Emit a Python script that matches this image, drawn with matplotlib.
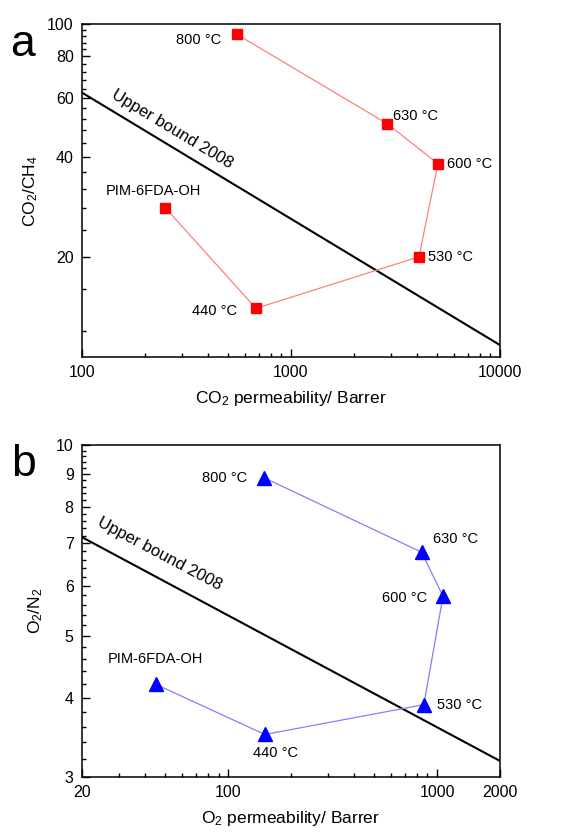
"""Robeson plots for PIM-6FDA-OH and its carbonised derivatives (CO2/CH4 and O2/N2)."""
import matplotlib
matplotlib.use("Agg")
import matplotlib.pyplot as plt
from matplotlib.ticker import FixedLocator, FixedFormatter, NullFormatter

plt.rcParams["font.family"] = ["Liberation Sans", "DejaVu Sans"]
plt.rcParams["mathtext.fontset"] = "custom"
plt.rcParams["mathtext.rm"] = "Liberation Sans"
plt.rcParams["mathtext.default"] = "regular"

# --- data ---
labels = ["PIM-6FDA-OH", "440 °C", "530 °C", "600 °C", "630 °C", "800 °C"]

co2_perm = [250, 680, 4100, 5050, 2880, 550]
co2_ch4 = [28.1, 14.0, 20.0, 38.1, 50.3, 93.3]

o2_perm = [45, 150, 865, 1068, 844, 149]
o2_n2 = [4.2, 3.5, 3.9, 5.78, 6.78, 8.88]

bound_co2_x = [100, 10000]
bound_co2_y = [62.3, 10.86]
bound_o2_x = [20, 2000]
bound_o2_y = [7.16, 3.18]

# label offsets (pixels) and alignment per point, panel a / panel b
offsets_a = [(-12, 17, "center"), (-19, -3, "right"), (9, 0, "left"),
             (9, 0, "left"), (6, 8, "left"), (-16, -6, "right")]
offsets_b = [(0, 25, "center"), (11, -19, "center"), (13, 0, "left"),
             (-16, -2, "right"), (11, 13, "left"), (-17, 0, "right")]


def style_axis(ax, xlim, ylim, xmajor, xminor, ymajor, yminor):
    ax.set_xscale("log")
    ax.set_yscale("log")
    ax.set_xlim(*xlim)
    ax.set_ylim(*ylim)
    ax.xaxis.set_major_locator(FixedLocator(xmajor))
    ax.xaxis.set_major_formatter(FixedFormatter([str(v) for v in xmajor]))
    ax.xaxis.set_minor_locator(FixedLocator(xminor))
    ax.xaxis.set_minor_formatter(NullFormatter())
    ax.yaxis.set_major_locator(FixedLocator(ymajor))
    ax.yaxis.set_major_formatter(FixedFormatter([str(v) for v in ymajor]))
    ax.yaxis.set_minor_locator(FixedLocator(yminor))
    ax.yaxis.set_minor_formatter(NullFormatter())
    ax.tick_params(which="both", direction="in", top=False, right=False,
                   labelsize=11.5, width=1.0, pad=6)
    ax.tick_params(which="major", length=6)
    ax.tick_params(which="minor", length=3)
    for sp in ax.spines.values():
        sp.set_linewidth(1.1)


fig = plt.figure(figsize=(5.64, 8.36), dpi=100)
ax_a = fig.add_axes([0.1454, 0.573, 0.741, 0.398])
ax_b = fig.add_axes([0.1454, 0.0706, 0.741, 0.397])

# panel a: CO2/CH4
xminor_a = [m * d for d in (100, 1000) for m in range(2, 10)]
yminor_a = [v for v in range(12, 100, 4) if v % 20 != 0]
style_axis(ax_a, (100, 10000), (10, 100), [100, 1000, 10000], xminor_a,
           [20, 40, 60, 80, 100], yminor_a)
ax_a.plot(bound_co2_x, bound_co2_y, color="black", lw=1.5, zorder=2)
ax_a.plot(co2_perm, co2_ch4, color="#ff8080", lw=0.9, zorder=3)
ax_a.plot(co2_perm, co2_ch4, ls="none", marker="s", ms=7, color="#ff0000", zorder=4)
for x, y, lab, (dx, dy, ha) in zip(co2_perm, co2_ch4, labels, offsets_a):
    ax_a.annotate(lab, (x, y), xytext=(dx, dy), textcoords="offset pixels",
                  ha=ha, va="center", fontsize=10.5)
ax_a.text(270, 48.5, "Upper bound 2008", rotation=-31, ha="center", va="center",
          fontsize=12, rotation_mode="anchor")
ax_a.set_xlabel("CO$_2$ permeability/ Barrer", fontsize=12.5, labelpad=6)
ax_a.set_ylabel("CO$_2$/CH$_4$", fontsize=12.5, labelpad=5)

# panel b: O2/N2
xminor_b = [m * d for d in (10, 100, 1000) for m in range(2, 10)
            if 20 < m * d < 2000 and m * d not in (100, 1000)]
yminor_b = [round(3 + 0.2 * i, 1) for i in range(1, 35) if (i % 5) != 0]
style_axis(ax_b, (20, 2000), (3, 10), [20, 100, 1000, 2000], xminor_b,
           [3, 4, 5, 6, 7, 8, 9, 10], yminor_b)
ax_b.plot(bound_o2_x, bound_o2_y, color="black", lw=1.5, zorder=2)
ax_b.plot(o2_perm, o2_n2, color="#8080ff", lw=0.9, zorder=3)
ax_b.plot(o2_perm, o2_n2, ls="none", marker="^", ms=9.5, color="#0000ff", zorder=4)
for x, y, lab, (dx, dy, ha) in zip(o2_perm, o2_n2, labels, offsets_b):
    ax_b.annotate(lab, (x, y), xytext=(dx, dy), textcoords="offset pixels",
                  ha=ha, va="center", fontsize=10.5)
ax_b.text(47.2, 6.75, "Upper bound 2008", rotation=-28, ha="center", va="center",
          fontsize=12, rotation_mode="anchor")
ax_b.set_xlabel("O$_2$ permeability/ Barrer", fontsize=12.5, labelpad=6)
ax_b.set_ylabel("O$_2$/N$_2$", fontsize=12.5, labelpad=8)

fig.text(22 / 564, 1 - 45 / 836, "a", fontsize=32, ha="center", va="center")
fig.text(24 / 564, 1 - 464 / 836, "b", fontsize=32, ha="center", va="center")

fig.savefig("out.png", dpi=100)
plt.close(fig)
